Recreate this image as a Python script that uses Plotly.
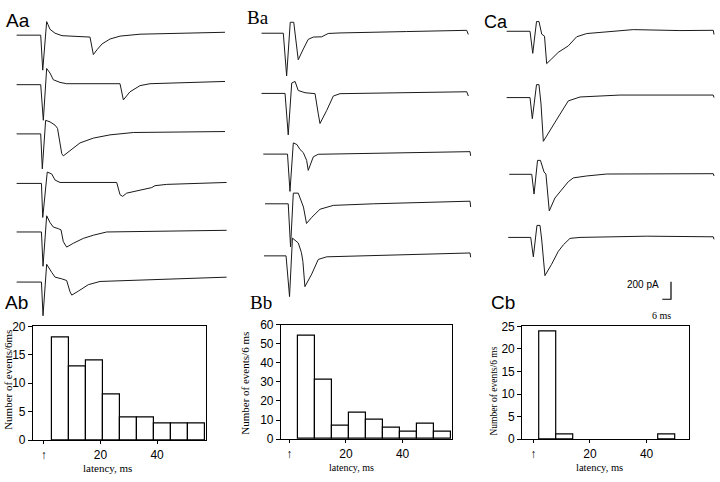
import plotly.graph_objects as go

# ---------------- DATA ----------------
# Histograms: latency bins (ms, bin centres) and counts of events per 6 ms
ab_bin_centers = [6, 12, 18, 24, 30, 36, 42, 48, 54]
ab_counts = [18, 13, 14, 8, 4, 4, 3, 3, 3]
bb_bin_centers = [6, 12, 18, 24, 30, 36, 42, 48, 54]
bb_counts = [54, 31, 7, 14, 10, 6, 4, 8, 4]
cb_bin_centers = [5, 11, 47]
cb_counts = [24, 1, 1]
hist_tick_vals = [0, 20, 40]
hist_tick_text = ["↑", "20", "40"]

# Current traces: time (ms, from stimulus) and current (pA, relative to baseline)
aa_traces = [
    ([-16.8, -0.2, 1.2, 3.9, 4.8, 6.2, 9.7, 14.5, 33.8, 36.1, 38.6, 42.1, 47.6, 54.5, 68.3, 126.9],
     [0, 0, -400, 155, 122, 67, 22, -6, -22, -222, -167, -100, -44, -11, 11, 33]),
    ([-16.8, -0.2, 1.6, 3.9, 6.2, 8.5, 13.1, 17.7, 54.5, 56.8, 61.4, 68.3, 75.2, 126.9],
     [0, 0, -407, 185, 133, 56, 26, 11, 11, -174, -81, -11, 11, 37]),
    ([-16.8, -0.2, 0.9, 3.2, 6.2, 9.7, 11.4, 14.3, 15.4, 20.0, 26.9, 36.1, 47.6, 63.7, 126.9],
     [0, 0, -400, 155, 138, 100, 63, -225, -251, -195, -103, -48, -11, 16, 27]),
    ([-16.8, 0.3, 1.2, 4.3, 7.4, 9.7, 13.1, 52.2, 54.5, 56.3, 59.1, 68.3, 76.3, 78.6, 86.7, 128.0],
     [0, 0, -389, 130, 108, 38, 11, 11, -129, -148, -111, -73, -48, -26, -11, 11]),
    ([-16.8, 0.3, 1.4, 3.9, 6.2, 8.5, 11.9, 13.8, 15.4, 17.7, 22.3, 29.2, 36.1, 45.3, 128.0],
     [0, 0, -392, 185, 108, 56, 38, 24, -111, -173, -129, -73, -37, 0, 19]),
    ([-16.8, 0.3, 1.4, 3.9, 7.4, 9.7, 14.3, 17.7, 20.0, 21.2, 25.7, 32.6, 40.7, 63.7, 128.0],
     [0, 0, -385, 203, 111, 56, 37, 18, -111, -149, -104, -30, 7, 18, 56]),
]
ba_traces = [
    ([-15.0, 0, 2.3, 4.8, 7.2, 10.3, 13.8, 17.2, 20.7, 26.5, 31.0, 39.1, 85.1, 126.5, 127.6],
     [0, 0, -488, 125, 125, -303, -181, -70, -44, -41, -3, 3, 19, 33, -14]),
    ([-15.0, 1.2, 3.4, 5.8, 8.1, 10.3, 15.0, 21.9, 24.1, 25.3, 29.9, 34.5, 39.1, 73.6, 126.5, 127.6],
     [0, 0, -474, 119, 137, 33, 8, -3, -233, -344, -196, -30, -3, 8, 19, -30]),
    ([-13.8, 2.9, 4.6, 6.9, 9.4, 11.5, 13.8, 16.1, 17.2, 20.7, 24.1, 62.1, 128.8, 129.2],
     [0, 0, -427, 128, 109, 53, 17, -72, -186, -31, -2, 9, 28, -20]),
    ([-12.6, 3.4, 5.0, 6.9, 10.3, 12.7, 13.9, 16.0, 19.6, 25.3, 34.5, 62.1, 128.8, 129.2],
     [0, 0, -492, 122, 122, 30, -37, -225, -155, -62, -18, 0, 30, -37]),
    ([-13.3, 1.9, 4.3, 6.3, 10.3, 12.5, 13.5, 14.9, 19.6, 24.1, 29.9, 80.6, 128.8, 129.2],
     [0, 0, -466, 203, 148, 37, -63, -352, -208, -41, -11, 14, 33, -16]),
]
ca_traces = [
    ([-16.1, 0, 1.9, 4.5, 6.2, 8.1, 10.0, 11.5, 15.0, 19.5, 26.4, 32.2, 39.1, 71.2, 103.4, 126.4, 126.9],
     [0, 0, -252, 111, 111, -33, -56, -370, -314, -241, -167, -63, -26, 19, 8, 11, -37]),
    ([-16.1, 0, 1.6, 4.5, 6.2, 7.6, 9.2, 13.8, 19.5, 26.4, 34.5, 62.1, 126.4, 126.9],
     [0, 0, -241, 148, 148, -74, -500, -371, -222, -38, 7, 29, 29, 0]),
    ([-14.3, 1.2, 2.8, 5.2, 7.2, 9.7, 11.0, 13.3, 17.2, 20.7, 26.4, 29.9, 39.1, 52.9, 126.4, 126.9],
     [0, 0, -226, 159, 159, 26, 3, -418, -271, -196, -85, -41, -19, 3, 7, -19]),
    ([-15.0, 0.5, 2.3, 4.8, 6.9, 8.1, 10.3, 14.9, 19.5, 23.0, 27.6, 34.5, 80.5, 126.4, 126.9],
     [0, 0, -222, 137, 137, -30, -437, -307, -160, -85, -11, 0, 14, 7, -22]),
]
scale_bar_pA = 200
scale_bar_ms = 6

# ---------------- LAYOUT ----------------
W, H = 720, 482
MS_PX = 1.45      # px per ms
PA_PX = 11.1      # pA per px
TOP_PX = 320      # height of trace area (px)

def px_x(p):
    return p / W

def px_y(p):
    return 1 - p / H

# column geometry: (axis id, x-domain px, stimulus px, baselines px, traces)
columns = [
    ("4", (10, 235), 41.0, [29, 80, 130.7, 181.7, 231.7, 283.3], aa_traces),
    ("5", (250, 480), 283.3, [27, 89, 151.5, 202.7, 256.3], ba_traces),
    ("6", (490, 720), 530.0, [25, 93.3, 172.3, 237.3], ca_traces),
]

fig = go.Figure()
layout_axes = {}
for ax, (d0, d1), xs, bases, traces in columns:
    layout_axes["xaxis" + ax] = dict(domain=[px_x(d0), px_x(d1)],
                                     range=[(d0 - xs) / MS_PX, (d1 - xs) / MS_PX],
                                     visible=False, anchor="y" + ax)
    layout_axes["yaxis" + ax] = dict(domain=[px_y(TOP_PX), 1],
                                     range=[-TOP_PX * PA_PX, 0],
                                     visible=False, anchor="x" + ax)
    for (t, cur), yb in zip(traces, bases):
        off = -yb * PA_PX
        fig.add_trace(go.Scatter(x=t, y=[c + off for c in cur], mode="lines",
                                 line=dict(color="#1a1a1a", width=1),
                                 xaxis="x" + ax, yaxis="y" + ax,
                                 showlegend=False, hoverinfo="skip"))

# scale bar in column C axes
sb_t0 = (671 - 530.0) / MS_PX
sb_y0 = -301 * PA_PX
fig.add_trace(go.Scatter(x=[sb_t0 - scale_bar_ms, sb_t0, sb_t0],
                         y=[sb_y0, sb_y0, sb_y0 + scale_bar_pA],
                         mode="lines", line=dict(color="black", width=1.2),
                         xaxis="x6", yaxis="y6", showlegend=False, hoverinfo="skip"))

# histograms
hists = [
    ("", ab_bin_centers, ab_counts, (33, 205.5), 43.8, (329, 446), [0, 20], 5),
    ("2", bb_bin_centers, bb_counts, (281, 451.7), 289.3, (327.3, 445), [0, 60], 10),
    ("3", cb_bin_centers, cb_counts, (522.3, 689.3), 533.3, (329, 445), [0, 25], 5),
]
HK = 2.833
for ax, cx, cy, (x0, x1), xz, (y0, y1), yr, dt in hists:
    fig.add_trace(go.Bar(x=cx, y=cy, width=6,
                         marker=dict(color="white", line=dict(color="black", width=1.2)),
                         xaxis="x" + ax, yaxis="y" + ax, showlegend=False, hoverinfo="skip"))
    layout_axes["xaxis" + ax] = dict(domain=[px_x(x0), px_x(x1)],
                                     range=[(x0 - xz) / HK, (x1 - xz) / HK],
                                     tickvals=hist_tick_vals, ticktext=hist_tick_text,
                                     ticks="outside", ticklen=3, tickcolor="black",
                                     showline=True, linecolor="black", linewidth=1.2,
                                     mirror=True, showgrid=False, zeroline=False,
                                     tickfont=dict(family="Liberation Sans", size=12, color="black"),
                                     anchor="y" + ax)
    layout_axes["yaxis" + ax] = dict(domain=[px_y(y1), px_y(y0)], range=yr, dtick=dt,
                                     ticks="outside", ticklen=4, tickcolor="black",
                                     showline=True, linecolor="black", linewidth=1.2,
                                     mirror=True, showgrid=False, zeroline=False,
                                     tickfont=dict(family="Liberation Sans", size=12, color="black"),
                                     anchor="x" + ax)

serif = "Liberation Serif"
sans = "Liberation Sans"
annotations = []

def txt(text, x, y, size, family, angle=0, xanchor="center"):
    annotations.append(dict(text=text, x=px_x(x), y=px_y(y), xref="paper", yref="paper",
                            showarrow=False, xanchor=xanchor, yanchor="middle",
                            textangle=angle,
                            font=dict(family=family, size=size, color="black")))

# panel labels
txt("Aa", 18, 14, 19, sans)
txt("Ba", 258, 11, 19, serif)
txt("Ca", 496, 15, 18, sans)
txt("Ab", 16, 304, 19, sans)
txt("Bb", 261, 304, 19, serif)
txt("Cb", 503, 304, 19, sans)
# axis titles
txt("Number of events/6ms", 8, 384, 11, serif, angle=-90)
txt("Number of events/6 ms", 245, 388, 11, serif, angle=-90)
txt("Number of events/6 ms", 494, 396, 9.5, serif, angle=-90)
txt("latency, ms", 107, 475, 11, serif)
txt("latency, ms", 351, 474, 10, serif)
txt("latency, ms", 599, 474, 10.5, serif)
# scale bar labels
txt("200 pA", 661, 286, 10, sans, xanchor="right")
txt("6 ms", 661, 318, 10, serif)

fig.update_layout(width=W, height=H, margin=dict(l=0, r=0, t=0, b=0),
                  paper_bgcolor="white", plot_bgcolor="white",
                  annotations=annotations, bargap=0, **layout_axes)

fig.write_html("out.html", config={"displayModeBar": False},
               post_script="document.body.style.margin='0';document.body.style.overflow='hidden';")
